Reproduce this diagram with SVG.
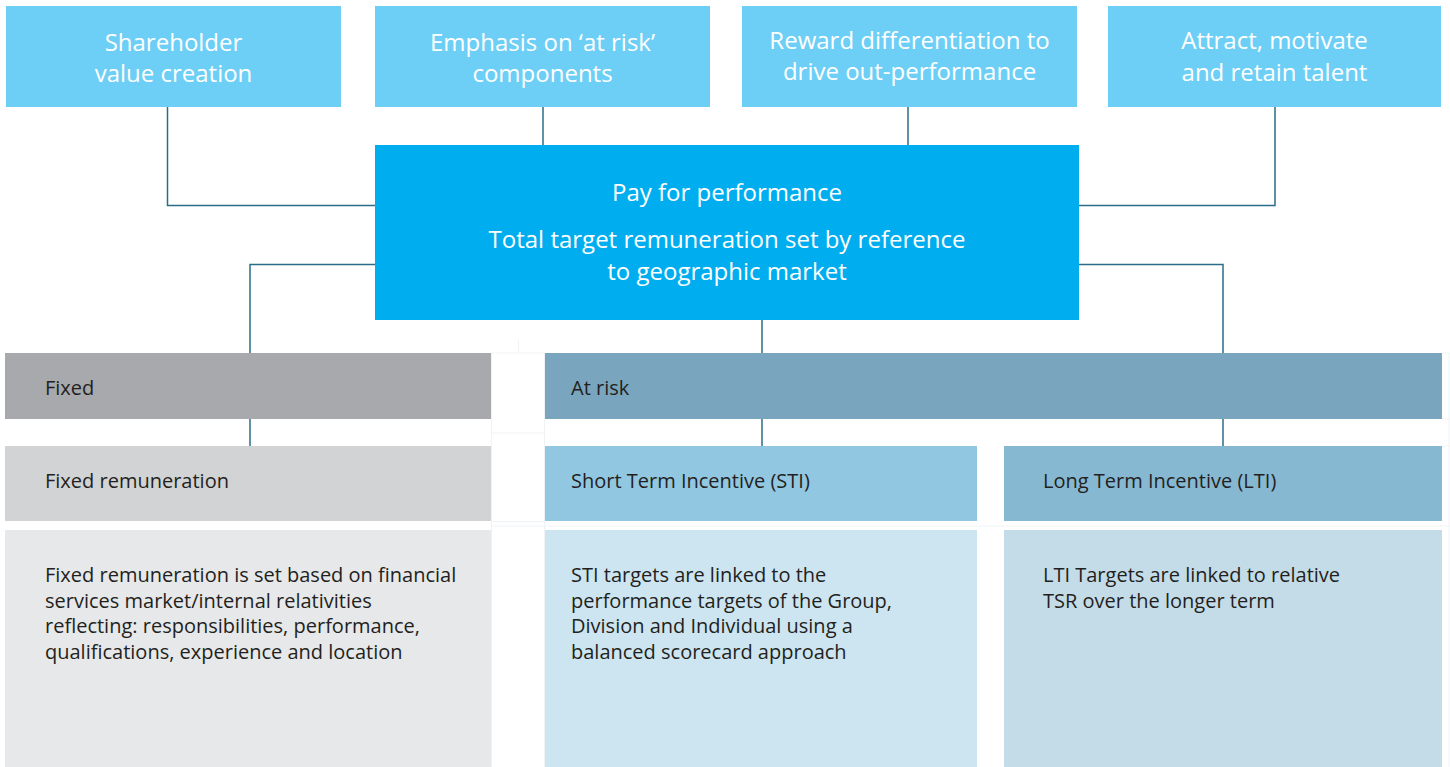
<svg xmlns="http://www.w3.org/2000/svg" width="1450" height="767" viewBox="0 0 1450 767">
<style>
.top{fill:#6dcff6}
.ctr{fill:#00aeef}
.tw{font-family:"Open Sans","Noto Sans",sans-serif;font-size:24px;fill:#ffffff;text-anchor:middle}
.td{font-family:"Open Sans","Noto Sans",sans-serif;font-size:20px;fill:#231f20}
.conn{fill:none;stroke:#2b6d89;stroke-width:1.5}
.faint{fill:none;stroke:#f0f3f6;stroke-width:1}
</style>
<rect width="1450" height="767" fill="#ffffff"/>
<g id="faint-frame">
<path class="faint" d="M518.5 340V353M491 353H545M491 433H545M491 521.5H545M491 526H1450M491.5 353V767M544.5 353V767M1442 353H1450M1442 419H1450M1442 446H1450M1449 353V767"/>
</g>
<g id="connectors">
<path class="conn" d="M167.5 107V205.5H375"/>
<path class="conn" d="M543 107V145"/>
<path class="conn" d="M908 107V145"/>
<path class="conn" d="M1275 107V205.5H1079"/>
<path class="conn" d="M375 264.5H250V353"/>
<path class="conn" d="M1079 264.5H1223V353"/>
<path class="conn" d="M762 320V353"/>
<path class="conn" d="M250 419V446"/>
<path class="conn" d="M762 419V446"/>
<path class="conn" d="M1223 419V446"/>
</g>
<g id="node-shareholder">
<rect class="top" x="6" y="6" width="335" height="101"/>
<text class="tw" x="173.5" y="51">Shareholder</text>
<text class="tw" x="173.5" y="82">value creation</text>
</g>
<g id="node-emphasis">
<rect class="top" x="375" y="6" width="335" height="101"/>
<text class="tw" x="542.5" y="51">Emphasis on ‘at risk’</text>
<text class="tw" x="542.5" y="82">components</text>
</g>
<g id="node-reward">
<rect class="top" x="742" y="6" width="335" height="101"/>
<text class="tw" x="909.5" y="49">Reward differentiation to</text>
<text class="tw" x="909.5" y="80">drive out-performance</text>
</g>
<g id="node-attract">
<rect class="top" x="1108" y="6" width="333" height="101"/>
<text class="tw" x="1274.5" y="49">Attract, motivate</text>
<text class="tw" x="1274.5" y="81">and retain talent</text>
</g>
<g id="node-pay">
<rect class="ctr" x="375" y="145" width="704" height="175"/>
<text class="tw" x="727" y="201">Pay for performance</text>
<text class="tw" x="727" y="248">Total target remuneration set by reference</text>
<text class="tw" x="727" y="280">to geographic market</text>
</g>
<g id="node-fixed">
<rect x="5" y="353" width="486" height="66" fill="#a7a9ac"/>
<text class="td" x="45" y="395">Fixed</text>
</g>
<g id="node-atrisk">
<rect x="545" y="353" width="897" height="66" fill="#79a6be"/>
<text class="td" x="571" y="395">At risk</text>
</g>
<g id="node-fixed-rem">
<rect x="5" y="446" width="486" height="75" fill="#d1d3d4"/>
<text class="td" x="45" y="488">Fixed remuneration</text>
</g>
<g id="node-sti">
<rect x="545" y="446" width="432" height="75" fill="#92c7e2"/>
<text class="td" x="571" y="488">Short Term Incentive (STI)</text>
</g>
<g id="node-lti">
<rect x="1004" y="446" width="438" height="75" fill="#87b8d2"/>
<text class="td" x="1043" y="488">Long Term Incentive (LTI)</text>
</g>
<g id="node-fixed-desc">
<rect x="5" y="530" width="486" height="237" fill="#e7e8ea"/>
<text class="td" x="45" y="582">Fixed remuneration is set based on financial</text>
<text class="td" x="45" y="607.5">services market/internal relativities</text>
<text class="td" x="45" y="633">reflecting: responsibilities, performance,</text>
<text class="td" x="45" y="658.5">qualifications, experience and location</text>
</g>
<g id="node-sti-desc">
<rect x="545" y="530" width="432" height="237" fill="#cce5f1"/>
<text class="td" x="571" y="582">STI targets are linked to the</text>
<text class="td" x="571" y="607.5">performance targets of the Group,</text>
<text class="td" x="571" y="633">Division and Individual using a</text>
<text class="td" x="571" y="658.5">balanced scorecard approach</text>
</g>
<g id="node-lti-desc">
<rect x="1004" y="530" width="438" height="237" fill="#c4dce8"/>
<text class="td" x="1043" y="582">LTI Targets are linked to relative</text>
<text class="td" x="1043" y="607.5">TSR over the longer term</text>
</g>
</svg>
